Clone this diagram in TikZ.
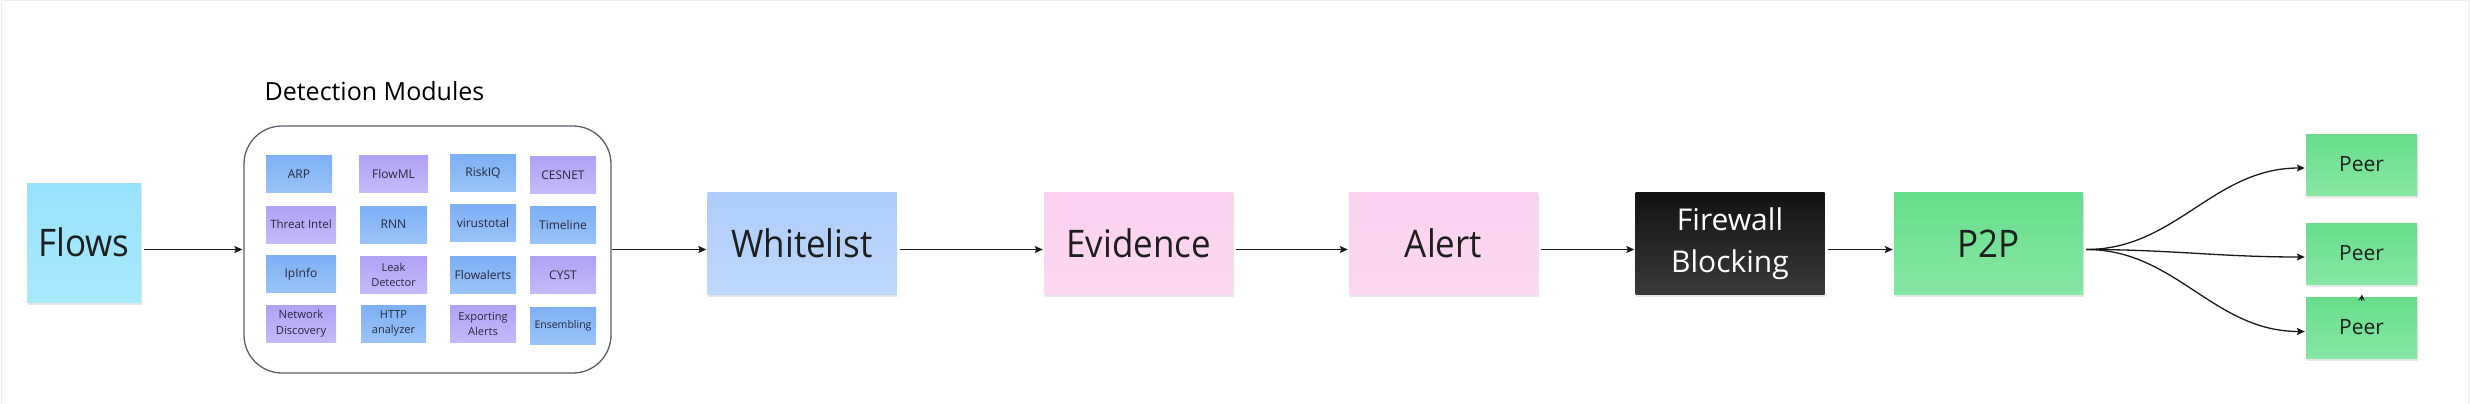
\documentclass[tikz,border=0pt]{standalone}
\usepackage{fontspec}
\setmainfont{Open Sans}
\newfontfamily\notefont[FakeStretch=0.92]{Open Sans}
\usepackage{xcolor}
\usetikzlibrary{arrows.meta}
\usetikzlibrary{shadows}

\definecolor{inkc}{HTML}{1E1E1E}
\definecolor{modtext}{HTML}{26263A}
\definecolor{linec}{HTML}{1A1A1A}
\definecolor{boxc}{HTML}{5C5C6C}
\definecolor{framec}{HTML}{EDEDED}
\definecolor{flowstop}{HTML}{96E2FB}
\definecolor{flowsbot}{HTML}{AAE9FC}
\definecolor{wltop}{HTML}{ADCDFA}
\definecolor{wlbot}{HTML}{BED8FC}
\definecolor{pinktop}{HTML}{FBD1EF}
\definecolor{pinkbot}{HTML}{FDD8F2}
\definecolor{fwtop}{HTML}{121212}
\definecolor{fwbot}{HTML}{3A3A3A}
\definecolor{greentop}{HTML}{66DD8A}
\definecolor{greenbot}{HTML}{87E7A3}
\definecolor{bluetop}{HTML}{7EAFF5}
\definecolor{bluebot}{HTML}{9AC4F8}
\definecolor{purpletop}{HTML}{B1A1F5}
\definecolor{purplebot}{HTML}{C5BAF9}

\tikzset{
  note/.style={inner sep=0pt, text=inkc, align=center,
    drop shadow={shadow xshift=0.5pt, shadow yshift=-2.5pt, opacity=0.10, fill=black}},
  bignote/.style={note, minimum width=189pt, minimum height=102pt,
    font=\notefont\fontsize{38}{44}\selectfont},
  peernote/.style={note, minimum width=111pt, minimum height=61pt,
    top color=greentop, bottom color=greenbot, font=\fontsize{21}{26}\selectfont},
  modnote/.style={inner sep=0pt, text=modtext, align=center, minimum width=66pt,
    minimum height=37pt, font=\fontsize{12}{15}\selectfont},
  modblue/.style={modnote, top color=bluetop, bottom color=bluebot},
  modpurple/.style={modnote, top color=purpletop, bottom color=purplebot},
  flowline/.style={draw=linec, line width=1.3pt,
    -{Stealth[length=8pt,width=7pt,inset=1.5pt]}, shorten <=3pt, shorten >=1pt},
}

\begin{document}
\begin{tikzpicture}[x=1pt,y=-1pt]
            \useasboundingbox (0,0) rectangle (2470,404);
            \draw[framec,line width=1pt](1,404) -- (1,0.5) -- (2468,0.5) -- (2468,404);

            % detection modules
            \node[font=\fontsize{25}{30}\selectfont] (title) at (374.5,91){Detection Modules};
            \node[draw=boxc,line width=1.3pt,rounded corners=38pt,minimum width=367pt,minimum height=247pt] (mods) at (427.5,249.5){};

            \node[modblue,minimum width=66pt] (arp) at (299,174){ARP};
            \node[modpurple,minimum width=69pt] (flowml) at (393.5,174){FlowML};
            \node[modblue] (riskiq) at (483,173){RiskIQ};
            \node[modpurple] (cesnet) at (563,175){CESNET};
            \node[modpurple,minimum width=70pt,font=\fontsize{11.5}{15}\selectfont] (threat) at (301,224.5){Threat Intel};
            \node[modblue,minimum width=67pt] (rnn) at (393.5,224.5){RNN};
            \node[modblue] (virustotal) at (483,223){virustotal};
            \node[modblue] (timeline) at (563,225){Timeline};
            \node[modblue,minimum width=70pt] (ipinfo) at (301,274){IpInfo};
            \node[modpurple,minimum width=67pt,font=\fontsize{11}{15}\selectfont] (leak) at (393.5,274.5){Leak\\Detector};
            \node[modblue] (flowalerts) at (483,275){Flowalerts};
            \node[modpurple] (cyst) at (563,275){CYST};
            \node[modpurple,minimum width=70pt,font=\fontsize{11.2}{16}\selectfont] (netdisc) at (301,324){Network\\Discovery};
            \node[modblue,minimum width=65pt,font=\fontsize{11}{15}\selectfont] (http) at (393.5,323.5){HTTP\\analyzer};
            \node[modpurple,font=\fontsize{11}{15}\selectfont] (exporting) at (483,324){Exporting\\Alerts};
            \node[modblue,font=\fontsize{10.5}{14}\selectfont] (ensembling) at (563,325.5){Ensembling};

            % pipeline
            \node[note,minimum width=114pt,minimum height=119pt,top color=flowstop,bottom color=flowsbot,font=\notefont\fontsize{38}{44}\selectfont] (flows) at (84,242.5){Flows};
            \node[bignote,top color=wltop,bottom color=wlbot] (whitelist) at (802,243.5){Whitelist};
            \node[bignote,top color=pinktop,bottom color=pinkbot] (evidence) at (1138.5,243.5){Evidence};
            \node[bignote,top color=pinktop,bottom color=pinkbot] (alert) at (1443.5,243.5){Alert};
            \node[bignote,top color=fwtop,bottom color=fwbot,text=white,font=\fontsize{30}{42}\selectfont] (firewall) at (1730,243.5){Firewall\\Blocking};
            \node[bignote,top color=greentop,bottom color=greenbot] (p2p) at (1988.5,243.5){P2P};

            \node[peernote] (peera) at (2361.5,164.5){Peer};
            \node[peernote] (peerb) at (2361.5,253.5){Peer};
            \node[peernote] (peerc) at (2361.5,327.5){Peer};

            \draw[flowline] (flows.east |- mods.west) -- (mods.west);
            \draw[flowline,shorten <=0pt] (mods.east) -- (mods.east -| whitelist.west);
            \draw[flowline] ([yshift=-6pt]whitelist.east) -- ([yshift=-6pt]evidence.west);
            \draw[flowline] ([yshift=-6pt]evidence.east) -- ([yshift=-6pt]alert.west);
            \draw[flowline] ([yshift=-6pt]alert.east) -- ([yshift=-6pt]firewall.west);
            \draw[flowline] ([yshift=-6pt]firewall.east) -- ([yshift=-6pt]p2p.west);

            \draw[flowline] ([yshift=-6pt]p2p.east) to[out=0,in=180] ([yshift=-3.5pt]peera.west);
            \draw[flowline] ([yshift=-6pt]p2p.east) to[out=0,in=180] ([yshift=-3.5pt]peerb.west);
            \draw[flowline] ([yshift=-6pt]p2p.east) to[out=0,in=180] ([yshift=-4pt]peerc.west);

            \coordinate (peertip) at (2362,294.5);
            \draw[draw=linec,line width=1pt,-{Stealth[length=6pt,width=6pt]}] ([yshift=-4pt]peerc.north) -- (peertip);
        \end{tikzpicture}
\end{document}
